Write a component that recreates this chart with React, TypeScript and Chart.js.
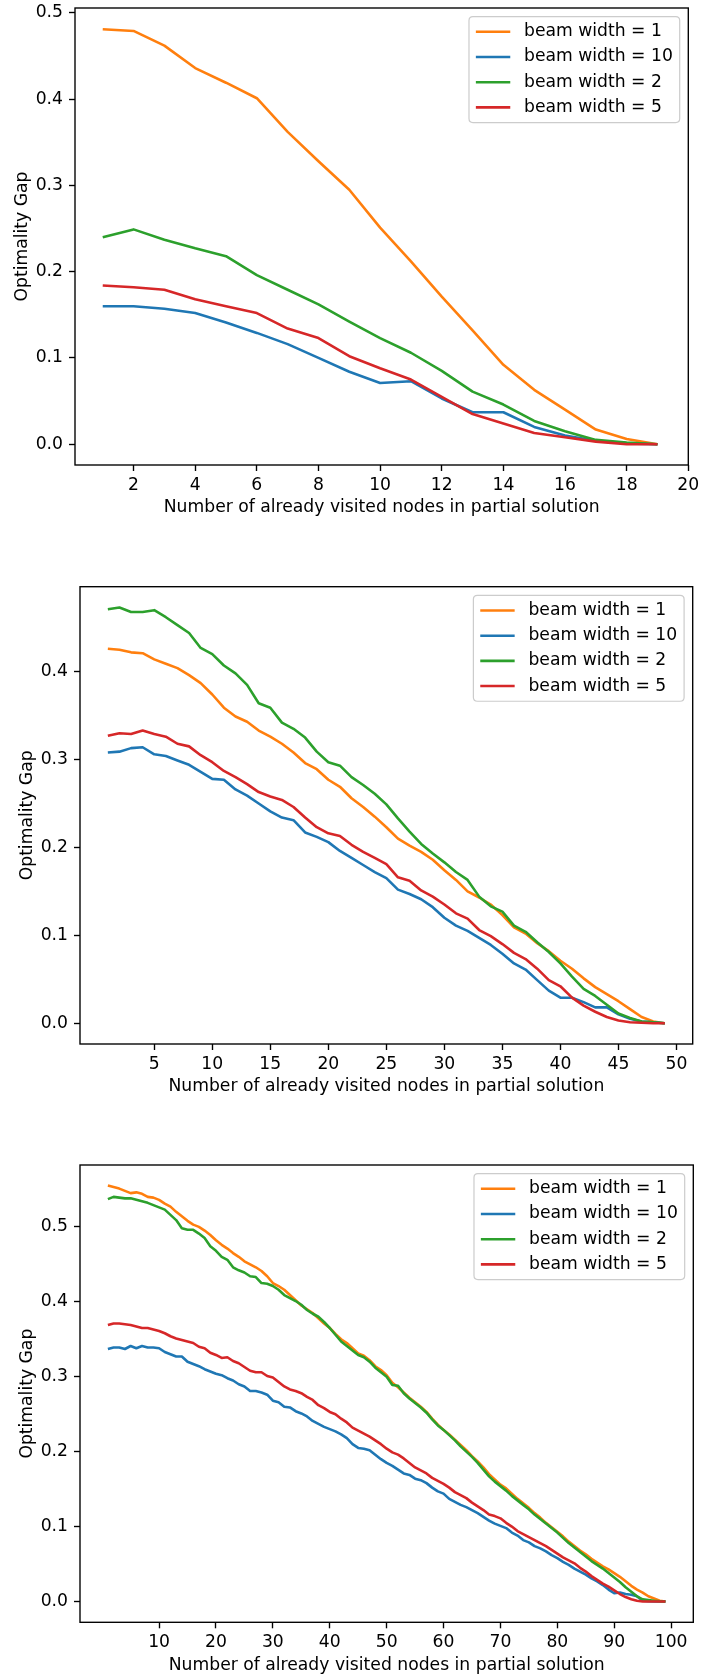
import React, { useEffect, useRef } from 'react';
import { Chart, registerables } from 'chart.js';

Chart.register(...registerables);

const FONT = "'DejaVu Sans', sans-serif";
const FS = 17.2;

const seriesLabels = ['beam width = 1', 'beam width = 10', 'beam width = 2', 'beam width = 5'];
const seriesColors = ['#ff7f0e', '#1f77b4', '#2ca02c', '#d62728'];
const drawOrder = [4, 3, 2, 1];

const yAxisTitle = 'Optimality Gap';
const xAxisTitle = 'Number of already visited nodes in partial solution';

// ---------- Chart 1 (19 steps) ----------
const c1XTicks = [2, 4, 6, 8, 10, 12, 14, 16, 18, 20];
const c1YTicks = [0.0, 0.1, 0.2, 0.3, 0.4, 0.5];
const c1Bw1 = [0.481, 0.479, 0.462, 0.436, 0.419, 0.401, 0.362, 0.328, 0.295, 0.251, 0.212, 0.171, 0.132, 0.092, 0.063, 0.040, 0.017, 0.006, 0.000];
const c1Bw10 = [0.160, 0.160, 0.157, 0.152, 0.141, 0.129, 0.116, 0.100, 0.084, 0.071, 0.073, 0.053, 0.037, 0.037, 0.020, 0.010, 0.004, 0.001, 0.000];
const c1Bw2 = [0.240, 0.249, 0.237, 0.227, 0.218, 0.196, 0.179, 0.162, 0.142, 0.123, 0.106, 0.085, 0.061, 0.046, 0.027, 0.015, 0.005, 0.002, 0.000];
const c1Bw5 = [0.184, 0.182, 0.179, 0.168, 0.160, 0.152, 0.134, 0.123, 0.102, 0.088, 0.075, 0.055, 0.035, 0.024, 0.013, 0.008, 0.003, 0.000, 0.000];

// ---------- Chart 2 (49 steps) ----------
const c2XTicks = [5, 10, 15, 20, 25, 30, 35, 40, 45, 50];
const c2YTicks = [0.0, 0.1, 0.2, 0.3, 0.4];
const c2Bw1 = [
  0.426, 0.425, 0.422, 0.421, 0.414, 0.409, 0.404, 0.396, 0.387, 0.374,
  0.359, 0.349, 0.343, 0.333, 0.326, 0.318, 0.308, 0.296, 0.289, 0.277,
  0.269, 0.256, 0.246, 0.235, 0.223, 0.210, 0.202, 0.195, 0.186, 0.174,
  0.163, 0.150, 0.143, 0.135, 0.123, 0.109, 0.102, 0.091, 0.082, 0.071,
  0.062, 0.051, 0.041, 0.033, 0.025, 0.016, 0.007, 0.002, 0.000,
];
const c2Bw10 = [
  0.308, 0.309, 0.313, 0.314, 0.306, 0.304, 0.299, 0.294, 0.286, 0.278,
  0.277, 0.266, 0.259, 0.250, 0.241, 0.234, 0.231, 0.217, 0.212, 0.206,
  0.196, 0.188, 0.180, 0.172, 0.165, 0.152, 0.147, 0.141, 0.132, 0.120,
  0.111, 0.105, 0.097, 0.089, 0.079, 0.068, 0.061, 0.049, 0.037, 0.029,
  0.029, 0.024, 0.018, 0.018, 0.010, 0.005, 0.002, 0.001, 0.000,
];
const c2Bw2 = [
  0.471, 0.473, 0.468, 0.468, 0.470, 0.462, 0.453, 0.444, 0.427, 0.420,
  0.407, 0.398, 0.385, 0.364, 0.359, 0.342, 0.335, 0.325, 0.309, 0.297,
  0.293, 0.280, 0.271, 0.261, 0.249, 0.233, 0.218, 0.204, 0.193, 0.183,
  0.172, 0.163, 0.144, 0.133, 0.127, 0.111, 0.104, 0.092, 0.081, 0.068,
  0.053, 0.039, 0.031, 0.021, 0.011, 0.006, 0.002, 0.001, 0.000,
];
const c2Bw5 = [
  0.327, 0.330, 0.329, 0.333, 0.329, 0.326, 0.318, 0.315, 0.305, 0.297,
  0.287, 0.280, 0.272, 0.263, 0.258, 0.254, 0.246, 0.234, 0.223, 0.216,
  0.213, 0.203, 0.195, 0.188, 0.181, 0.166, 0.162, 0.151, 0.144, 0.135,
  0.125, 0.119, 0.106, 0.099, 0.090, 0.080, 0.073, 0.062, 0.049, 0.042,
  0.029, 0.020, 0.013, 0.007, 0.003, 0.001, 0.0005, 0.000, 0.000,
];

// ---------- Chart 3 (99 steps) ----------
const c3XTicks = [10, 20, 30, 40, 50, 60, 70, 80, 90, 100];
const c3YTicks = [0.0, 0.1, 0.2, 0.3, 0.4, 0.5];
const c3Bw1 = [
  0.555, 0.553, 0.551, 0.548, 0.545, 0.546, 0.544, 0.540, 0.539, 0.536,
  0.531, 0.527, 0.520, 0.514, 0.508, 0.503, 0.500, 0.495, 0.489, 0.482,
  0.476, 0.471, 0.465, 0.460, 0.454, 0.450, 0.446, 0.441, 0.434, 0.425,
  0.421, 0.416, 0.409, 0.402, 0.395, 0.390, 0.385, 0.378, 0.371, 0.365,
  0.357, 0.350, 0.345, 0.338, 0.331, 0.328, 0.322, 0.314, 0.309, 0.302,
  0.292, 0.286, 0.279, 0.272, 0.266, 0.260, 0.253, 0.244, 0.236, 0.229,
  0.223, 0.216, 0.209, 0.202, 0.194, 0.187, 0.179, 0.170, 0.163, 0.156,
  0.151, 0.144, 0.137, 0.131, 0.125, 0.118, 0.112, 0.105, 0.099, 0.093,
  0.087, 0.080, 0.074, 0.068, 0.063, 0.057, 0.052, 0.047, 0.043, 0.038,
  0.033, 0.027, 0.021, 0.016, 0.012, 0.007, 0.004, 0.001, 0.000,
];
const c3Bw10 = [
  0.337, 0.339, 0.339, 0.337, 0.341, 0.338, 0.341, 0.339, 0.339, 0.338,
  0.333, 0.330, 0.327, 0.327, 0.320, 0.317, 0.314, 0.310, 0.307, 0.304,
  0.302, 0.298, 0.295, 0.290, 0.287, 0.281, 0.281, 0.279, 0.276, 0.268,
  0.266, 0.260, 0.259, 0.254, 0.251, 0.247, 0.241, 0.237, 0.233, 0.230,
  0.227, 0.223, 0.218, 0.210, 0.205, 0.204, 0.202, 0.196, 0.190, 0.185,
  0.181, 0.176, 0.171, 0.169, 0.164, 0.162, 0.158, 0.152, 0.147, 0.144,
  0.137, 0.133, 0.129, 0.126, 0.122, 0.118, 0.113, 0.108, 0.104, 0.101,
  0.098, 0.092, 0.088, 0.082, 0.079, 0.074, 0.071, 0.067, 0.062, 0.058,
  0.053, 0.049, 0.044, 0.040, 0.036, 0.031, 0.027, 0.022, 0.016, 0.011,
  0.012, 0.010, 0.009, 0.007, 0.001, 0.0004, 0.0001, 0.000, 0.000,
];
const c3Bw2 = [
  0.537, 0.540, 0.539, 0.538, 0.538, 0.536, 0.534, 0.532, 0.529, 0.526,
  0.523, 0.516, 0.509, 0.498, 0.496, 0.496, 0.491, 0.485, 0.474, 0.468,
  0.460, 0.456, 0.446, 0.442, 0.439, 0.434, 0.433, 0.425, 0.424, 0.421,
  0.416, 0.409, 0.405, 0.401, 0.396, 0.389, 0.384, 0.380, 0.373, 0.365,
  0.356, 0.347, 0.341, 0.335, 0.329, 0.326, 0.320, 0.312, 0.306, 0.300,
  0.289, 0.288, 0.278, 0.271, 0.265, 0.259, 0.252, 0.243, 0.235, 0.229,
  0.222, 0.215, 0.207, 0.200, 0.193, 0.185, 0.176, 0.167, 0.160, 0.154,
  0.148, 0.141, 0.135, 0.129, 0.123, 0.116, 0.110, 0.104, 0.098, 0.092,
  0.085, 0.078, 0.072, 0.066, 0.060, 0.054, 0.049, 0.044, 0.038, 0.032,
  0.026, 0.019, 0.013, 0.007, 0.003, 0.002, 0.001, 0.0005, 0.000,
];
const c3Bw5 = [
  0.369, 0.371, 0.371, 0.370, 0.369, 0.367, 0.365, 0.365, 0.363, 0.361,
  0.358, 0.354, 0.351, 0.349, 0.347, 0.345, 0.340, 0.338, 0.332, 0.329,
  0.325, 0.326, 0.321, 0.318, 0.313, 0.308, 0.306, 0.306, 0.301, 0.299,
  0.293, 0.287, 0.283, 0.281, 0.278, 0.273, 0.269, 0.262, 0.258, 0.253,
  0.250, 0.244, 0.239, 0.232, 0.228, 0.224, 0.220, 0.215, 0.210, 0.204,
  0.199, 0.196, 0.191, 0.185, 0.179, 0.175, 0.171, 0.165, 0.161, 0.157,
  0.152, 0.146, 0.142, 0.138, 0.132, 0.127, 0.122, 0.116, 0.114, 0.111,
  0.105, 0.100, 0.094, 0.090, 0.086, 0.082, 0.078, 0.074, 0.069, 0.064,
  0.059, 0.055, 0.051, 0.045, 0.040, 0.034, 0.029, 0.024, 0.020, 0.015,
  0.010, 0.006, 0.003, 0.001, 0.000, 0.000, 0.000, 0.000, 0.000,
];

type ChartCfg = {
  top: number;
  height: number;
  padTop: number;
  padRight: number;
  padBottom: number;
  yAxisWidth: number;
  yTitlePad: number;
  xMin: number;
  xMax: number;
  yMin: number;
  yMax: number;
  xTicks: number[];
  yTicks: number[];
  series: number[][];
};

const charts: ChartCfg[] = [
  {
    top: 0, height: 521, padTop: 8, padRight: 14.7, padBottom: 0, yAxisWidth: 75, yTitlePad: 12.1,
    xMin: 0.1, xMax: 20, yMin: -0.0241, yMax: 0.5056,
    xTicks: c1XTicks, yTicks: c1YTicks, series: [c1Bw1, c1Bw10, c1Bw2, c1Bw5],
  },
  {
    top: 576, height: 524, padTop: 10.7, padRight: 10.3, padBottom: 0, yAxisWidth: 80, yTitlePad: 17.1,
    xMin: -1.4, xMax: 51.4, yMin: -0.0237, yMax: 0.4967,
    xTicks: c2XTicks, yTicks: c2YTicks, series: [c2Bw1, c2Bw10, c2Bw2, c2Bw5],
  },
  {
    top: 1155, height: 524, padTop: 10, padRight: 9.7, padBottom: 0.7, yAxisWidth: 80, yTitlePad: 17.1,
    xMin: -3.9, xMax: 103.9, yMin: -0.0277, yMax: 0.5825,
    xTicks: c3XTicks, yTicks: c3YTicks, series: [c3Bw1, c3Bw10, c3Bw2, c3Bw5],
  },
];

const framePlugin = {
  id: 'mplFrame',
  afterDatasetsDraw(chart: any) {
    const { ctx, chartArea: a } = chart;
    ctx.save();
    ctx.strokeStyle = '#000';
    ctx.lineWidth = 1.37;
    ctx.strokeRect(a.left, a.top, a.right - a.left, a.bottom - a.top);
    ctx.restore();
  },
};

const legendPlugin = {
  id: 'mplLegend',
  afterDatasetsDraw(chart: any) {
    const { ctx, chartArea: a } = chart;
    const ds = chart.data.datasets;
    ctx.save();
    ctx.font = `${FS}px ${FONT}`;
    const tw = Math.max(...ds.map((d: any) => ctx.measureText(d.label).width));
    const pad = 0.4 * FS;
    const hl = 2 * FS;
    const htp = 0.8 * FS;
    const rowH = 16.6;
    const ls = 0.5 * FS;
    const bap = 0.5 * FS;
    const w = pad * 2 + hl + htp + tw;
    const h = pad * 2 + ds.length * rowH + (ds.length - 1) * ls;
    const x = a.right - bap - w;
    const y = a.top + bap;
    const r = 4;
    ctx.beginPath();
    ctx.moveTo(x + r, y);
    ctx.lineTo(x + w - r, y);
    ctx.quadraticCurveTo(x + w, y, x + w, y + r);
    ctx.lineTo(x + w, y + h - r);
    ctx.quadraticCurveTo(x + w, y + h, x + w - r, y + h);
    ctx.lineTo(x + r, y + h);
    ctx.quadraticCurveTo(x, y + h, x, y + h - r);
    ctx.lineTo(x, y + r);
    ctx.quadraticCurveTo(x, y, x + r, y);
    ctx.closePath();
    ctx.fillStyle = 'rgba(255,255,255,0.8)';
    ctx.fill();
    ctx.strokeStyle = '#cccccc';
    ctx.lineWidth = 1.2;
    ctx.stroke();
    ds.forEach((d: any, i: number) => {
      const cy = y + pad + rowH / 2 + i * (rowH + ls);
      ctx.beginPath();
      ctx.strokeStyle = d.borderColor;
      ctx.lineWidth = 2.58;
      ctx.moveTo(x + pad, cy);
      ctx.lineTo(x + pad + hl, cy);
      ctx.stroke();
      ctx.fillStyle = '#000';
      ctx.textBaseline = 'middle';
      ctx.textAlign = 'left';
      ctx.fillText(d.label, x + pad + hl + htp, cy);
    });
    ctx.restore();
  },
};

function LineChart({ cfg }: { cfg: ChartCfg }) {
  const ref = useRef<HTMLCanvasElement | null>(null);
  useEffect(() => {
    if (!ref.current) return;
    const font = { family: FONT, size: FS };
    const chart = new Chart(ref.current, {
      type: 'line',
      data: {
        datasets: cfg.series.map((vals, si) => ({
          label: seriesLabels[si],
          data: vals.map((v, i) => ({ x: i + 1, y: v })),
          borderColor: seriesColors[si],
          backgroundColor: seriesColors[si],
          borderWidth: 2.58,
          borderJoinStyle: 'round' as const,
          pointRadius: 0,
          tension: 0,
          fill: false,
          order: drawOrder[si],
        })),
      },
      options: {
        animation: false,
        responsive: false,
        devicePixelRatio: 1,
        layout: { padding: { top: cfg.padTop, right: cfg.padRight, bottom: cfg.padBottom, left: 0 } },
        plugins: { legend: { display: false }, tooltip: { enabled: false } },
        scales: {
          x: {
            type: 'linear',
            min: cfg.xMin,
            max: cfg.xMax,
            afterBuildTicks: (s: any) => { s.ticks = cfg.xTicks.map((v) => ({ value: v })); },
            afterFit: (s: any) => { s.height = 56; s.paddingLeft = 0; s.paddingRight = 0; },
            grid: { drawOnChartArea: false, drawTicks: true, tickLength: 6, tickWidth: 1.37, tickColor: '#000' },
            border: { display: false },
            ticks: { autoSkip: false, maxRotation: 0, padding: 4, color: '#000', font, callback: (v: any) => String(v) },
            title: { display: true, text: xAxisTitle, color: '#000', font, padding: { top: 0, bottom: 2.7 } },
          },
          y: {
            type: 'linear',
            min: cfg.yMin,
            max: cfg.yMax,
            afterBuildTicks: (s: any) => { s.ticks = cfg.yTicks.map((v) => ({ value: v })); },
            afterFit: (s: any) => { s.width = cfg.yAxisWidth; s.paddingTop = 0; s.paddingBottom = 0; },
            grid: { drawOnChartArea: false, drawTicks: true, tickLength: 6, tickWidth: 1.37, tickColor: '#000' },
            border: { display: false },
            ticks: { autoSkip: false, padding: 6, color: '#000', font, callback: (v: any) => Number(v).toFixed(1) },
            title: { display: true, text: yAxisTitle, color: '#000', font, padding: { top: cfg.yTitlePad, bottom: 0 } },
          },
        },
      } as any,
      plugins: [framePlugin, legendPlugin],
    });
    return () => chart.destroy();
  }, [cfg]);
  return (
    <canvas
      ref={ref}
      width={703}
      height={cfg.height}
      style={{ position: 'absolute', left: 0, top: cfg.top, width: 703, height: cfg.height }}
    />
  );
}

export default function App() {
  return (
    <div style={{ position: 'absolute', left: 0, top: 0, width: 703, height: 1679, background: '#fff' }}>
      {charts.map((c, i) => (
        <LineChart key={i} cfg={c} />
      ))}
    </div>
  );
}
